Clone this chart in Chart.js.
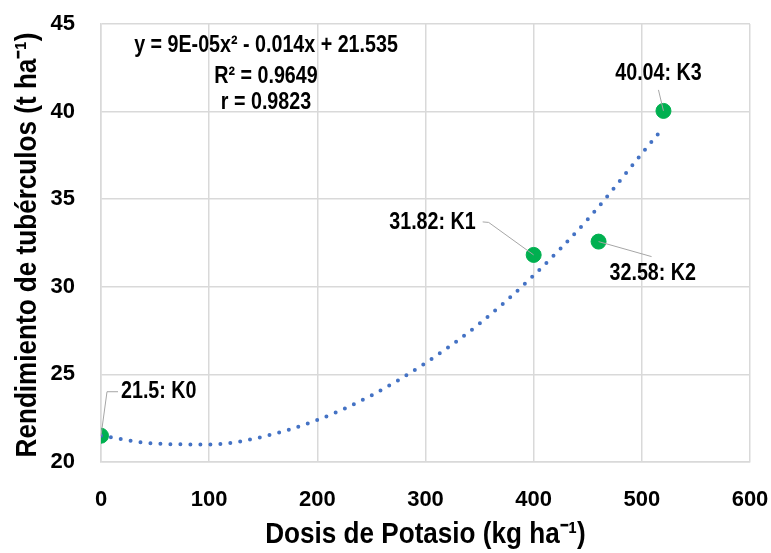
<!DOCTYPE html>
<html>
<head>
<meta charset="utf-8">
<script src="https://cdn.jsdelivr.net/npm/chart.js@4/dist/chart.umd.min.js"></script>
<style>
  html, body { margin: 0; padding: 0; background: #fff; }
  #wrap { width: 771px; height: 553px; }
</style>
</head>
<body>
<div id="wrap"><canvas id="grafico" width="771" height="553"></canvas></div>
<script>
// Datos
const dosis = [0, 400, 460, 520];
const rendimiento = [21.5, 31.82, 32.58, 40.04];
const tratamientos = ['K0', 'K1', 'K2', 'K3'];

// Línea de tendencia (polinómica)
const tendDosis = [0, 50, 100, 150, 200, 250, 300, 350, 400, 450, 500, 520];
const tendRend = [21.5, 21.05, 21.0, 21.45, 22.4, 23.8, 25.65, 27.9, 30.65, 33.85, 37.6, 39.1];

const ecuacion = ['y = 9E-05x² - 0.014x + 21.535', 'R² = 0.9649', 'r = 0.9823'];
const tituloX = 'Dosis de Potasio (kg ha⁻¹)';
const tituloY = 'Rendimiento de tubérculos (t ha⁻¹)';

const fuente = "'Liberation Sans', Arial, sans-serif";
const gris = '#d9d9d9';

// Texto angosto (no hay Arial Narrow instalada)
function textoAngosto(ctx, txt, x, y, align, size, rot, esc) {
    ctx.save();
    ctx.translate(x, y);
    if (rot) ctx.rotate(rot);
    ctx.scale(esc || 0.82, 1);
    ctx.font = 'bold ' + size + 'px ' + fuente;
    ctx.textAlign = align;
    ctx.textBaseline = 'middle';
    ctx.fillStyle = '#000';
    ctx.fillText(txt, 0, 0);
    ctx.restore();
}

// Etiquetas de datos, líneas guía, ecuación y títulos
const etiquetasPlugin = {
    id: 'etiquetas',
    afterDatasetsDraw(chart) {
        const ctx = chart.ctx;
        const area = chart.chartArea;
        const meta = chart.getDatasetMeta(1);
        const pts = meta.data.map(p => ({ x: p.x, y: p.y }));
        const lbl = i => rendimiento[i] + ': ' + tratamientos[i];
        ctx.save();
        ctx.strokeStyle = '#a6a6a6';
        ctx.lineWidth = 1;

        // K0
        let p = pts[0];
        ctx.beginPath();
        ctx.moveTo(p.x, p.y);
        ctx.lineTo(p.x + 6, p.y - 44);
        ctx.lineTo(p.x + 17, p.y - 44);
        ctx.stroke();
        textoAngosto(ctx, lbl(0), p.x + 20, p.y - 44, 'left', 24);

        // K1
        p = pts[1];
        ctx.beginPath();
        ctx.moveTo(p.x - 51, p.y - 33);
        ctx.lineTo(p.x - 45, p.y - 32.5);
        ctx.lineTo(p.x, p.y);
        ctx.stroke();
        textoAngosto(ctx, lbl(1), p.x - 58, p.y - 33, 'right', 24);

        // K2
        p = pts[2];
        ctx.beginPath();
        ctx.moveTo(p.x, p.y);
        ctx.lineTo(p.x + 53, p.y + 15);
        ctx.stroke();
        textoAngosto(ctx, lbl(2), p.x + 11, p.y + 32, 'left', 24);

        // K3
        p = pts[3];
        ctx.beginPath();
        ctx.moveTo(p.x - 5, p.y - 21);
        ctx.lineTo(p.x, p.y);
        ctx.stroke();
        textoAngosto(ctx, lbl(3), p.x - 5, p.y - 38, 'center', 24);
        ctx.restore();

        // Ecuación de la tendencia
        textoAngosto(ctx, ecuacion[0], 266, 45, 'center', 24);
        textoAngosto(ctx, ecuacion[1], 266, 76, 'center', 24);
        textoAngosto(ctx, ecuacion[2], 266, 102, 'center', 24);

        // Títulos de ejes
        textoAngosto(ctx, tituloX, (area.left + area.right) / 2, 535, 'center', 30, 0, 0.87);
        textoAngosto(ctx, tituloY, 28, 245, 'center', 30, -Math.PI / 2, 0.87);
    }
};

new Chart(document.getElementById('grafico').getContext('2d'), {
    type: 'scatter',
    data: {
        datasets: [
            {
                label: 'Tendencia',
                data: tendDosis.map((x, i) => ({ x: x, y: tendRend[i] })),
                showLine: true,
                borderColor: '#4472c4',
                borderWidth: 4,
                borderDash: [0, 10],
                borderCapStyle: 'round',
                cubicInterpolationMode: 'monotone',
                pointRadius: 0,
                fill: false
            },
            {
                label: 'Rendimiento',
                data: dosis.map((x, i) => ({ x: x, y: rendimiento[i] })),
                backgroundColor: '#00b050',
                borderColor: '#00b050',
                pointRadius: 7.5,
                showLine: false
            }
        ]
    },
    options: {
        responsive: false,
        animation: false,
        layout: { padding: { top: 24, right: 21, left: 0, bottom: 0 } },
        plugins: { legend: { display: false }, tooltip: { enabled: false } },
        scales: {
            x: {
                min: 0, max: 600,
                ticks: { stepSize: 100, color: '#000', padding: 25, font: { family: fuente, size: 22, weight: 'bold' } },
                grid: { color: gris, lineWidth: 1.5, drawTicks: false },
                border: { color: gris, width: 1.5 },
                afterFit(scale) {
                    scale.height = 91;
                    scale.paddingLeft = 0;
                    scale.paddingRight = 0;
                }
            },
            y: {
                min: 20, max: 45,
                ticks: { stepSize: 5, color: '#000', padding: 26, font: { family: fuente, size: 22, weight: 'bold' } },
                grid: { color: gris, lineWidth: 1.5, drawTicks: false },
                border: { color: gris, width: 1.5 },
                afterFit(scale) {
                    scale.width = 101;
                    scale.paddingTop = 0;
                    scale.paddingBottom = 0;
                }
            }
        }
    },
    plugins: [etiquetasPlugin]
});
</script>
</body>
</html>
